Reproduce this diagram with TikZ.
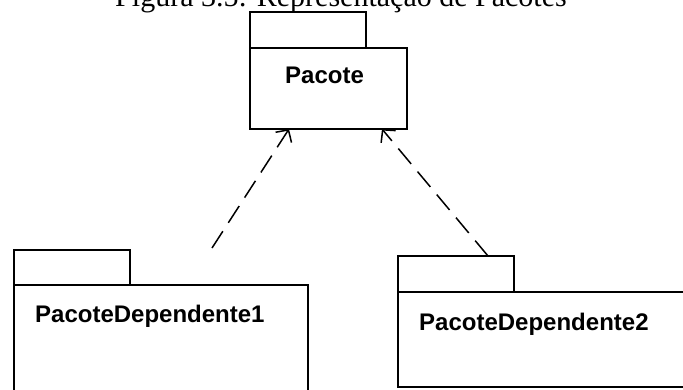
\documentclass[tikz,border=0pt]{standalone}
\usepackage{fontspec}
\setmainfont{Liberation Serif}
\newfontfamily\pkgfont{Liberation Sans}
\usetikzlibrary{arrows.meta,calc}

\tikzset{
  pkgpart/.style={draw=black, line width=1.6pt, inner sep=0pt, outer sep=0pt,
                  anchor=north west},
  pkglabel/.style={font=\pkgfont\bfseries\fontsize{24}{28}\selectfont,
                   inner sep=0pt, anchor=base west},
  dependency/.style={draw=black, line width=1.5pt, dash pattern=on 20pt off 10pt,
                     -{Straight Barb[length=9pt,width=19pt,line width=1.5pt]}},
  caption/.style={font=\fontsize{30}{34}\selectfont, inner sep=0pt, anchor=base}
}

\begin{document}
\begin{tikzpicture}[x=1pt, y=-1pt]
  \useasboundingbox (0,0) rectangle (683,389);
  \clip (0,0) rectangle (683,389);

  % caption of the figure
  \node[caption] (title) at (341,6.5) {Figura 3.5: Representação de Pacotes};

  % package "Pacote"
  \node[pkgpart, minimum width=116pt, minimum height=36pt] (pacoteTab) at (250,12) {};
  \node[pkgpart, minimum width=157pt, minimum height=81pt] (pacote) at (250,48) {};
  \node[pkglabel] (pacoteLbl) at (285,83) {Pacote};

  % package "PacoteDependente1"
  \node[pkgpart, minimum width=116pt, minimum height=35pt] (dep1Tab) at (14,250) {};
  \node[pkgpart, minimum width=294pt, minimum height=140pt] (dep1) at (14,285) {};
  \node[pkglabel] (dep1Lbl) at (35,322) {PacoteDependente1};

  % package "PacoteDependente2"
  \node[pkgpart, minimum width=116pt, minimum height=36pt] (dep2Tab) at (398,256) {};
  \node[pkgpart, minimum width=300pt, minimum height=95pt] (dep2) at (398,292) {};
  \node[pkglabel] (dep2Lbl) at (419,330) {PacoteDependente2};

  % dependency arrows
  \coordinate (dep1Start) at (212,248);
  \coordinate (dep1End) at ($(pacote.south west)+(39,0)$);
  \coordinate (dep2Start) at ($(dep2Tab.north west)+(90,0)$);
  \coordinate (dep2End) at ($(pacote.south west)+(132,0)$);
  \draw[dependency] (dep1Start) -- (dep1End);
  \draw[dependency] (dep2Start) -- (dep2End);
\end{tikzpicture}
\end{document}
